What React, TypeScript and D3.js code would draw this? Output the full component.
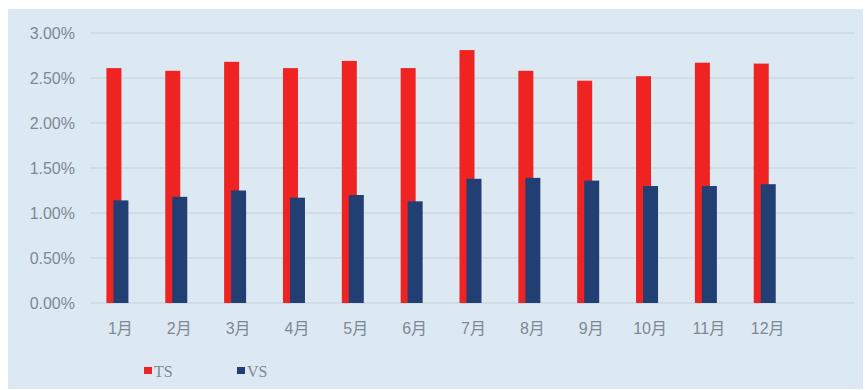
import React from "react";
import * as d3 from "d3";

const months = ["1月", "2月", "3月", "4月", "5月", "6月", "7月", "8月", "9月", "10月", "11月", "12月"];
const tsValues = [2.61, 2.58, 2.68, 2.61, 2.69, 2.61, 2.81, 2.58, 2.47, 2.52, 2.67, 2.66];
const vsValues = [1.14, 1.18, 1.25, 1.17, 1.2, 1.13, 1.38, 1.39, 1.36, 1.3, 1.3, 1.32];
const yTicks = [0, 0.5, 1, 1.5, 2, 2.5, 3];
const seriesNames = ["TS", "VS"];
const seriesColors = ["#ee2322", "#223f74"];

export default function App() {
  const W = 865;
  const H = 390;
  const left = 90;
  const right = 855;
  const top = 33;
  const bottom = 303;
  const slot = (right - left) / 13;
  const x = d3
    .scaleBand<string>()
    .domain(months)
    .range([left, left + slot * 12])
    .paddingInner(0)
    .paddingOuter(0);
  const y = d3.scaleLinear().domain([0, 3]).range([bottom, top]);
  const barW = 15;
  const offset = 7;

  return (
    <svg width={W} height={H} style={{ position: "absolute", left: 0, top: 0 }}>
      <rect x={0} y={0} width={W} height={H} fill="#ffffff" />
      <rect x={8} y={9} width={855} height={380} fill="#dde9f2" />
      {yTicks.map((t) => (
        <g key={t}>
          <line x1={left} x2={right} y1={y(t)} y2={y(t)} stroke="#cbd7e2" strokeWidth={1.3} />
          <text
            x={75}
            y={y(t)}
            dy="0.35em"
            textAnchor="end"
            fontFamily="Liberation Sans, Arial, sans-serif"
            fontSize={16}
            fill="#7d8893"
          >
            {t.toFixed(2)}%
          </text>
        </g>
      ))}
      {months.map((m, i) => {
        const cx = (x(m) as number) + x.bandwidth() / 2 - 2;
        return (
          <g key={m}>
            <rect
              x={cx - offset / 2 - barW / 2}
              y={y(tsValues[i])}
              width={barW}
              height={bottom - y(tsValues[i])}
              fill={seriesColors[0]}
            />
            <rect
              x={cx + offset / 2 - barW / 2}
              y={y(vsValues[i])}
              width={barW}
              height={bottom - y(vsValues[i])}
              fill={seriesColors[1]}
            />
            <text
              x={cx + 3}
              y={328}
              dy="0.35em"
              textAnchor="middle"
              fontFamily="Liberation Sans, Arial, 'Noto Sans CJK SC', sans-serif"
              fontSize={16}
              fill="#7d8893"
            >
              {m}
            </text>
          </g>
        );
      })}
      {seriesNames.map((s, i) => (
        <g key={s} transform={`translate(${144 + i * 93},0)`}>
          <rect x={0} y={367} width={8} height={7} fill={seriesColors[i]} />
          <text
            x={10}
            y={371}
            dy="0.35em"
            fontFamily="Liberation Serif, 'Times New Roman', serif"
            fontSize={16}
            fill="#7d8893"
          >
            {s}
          </text>
        </g>
      ))}
    </svg>
  );
}
